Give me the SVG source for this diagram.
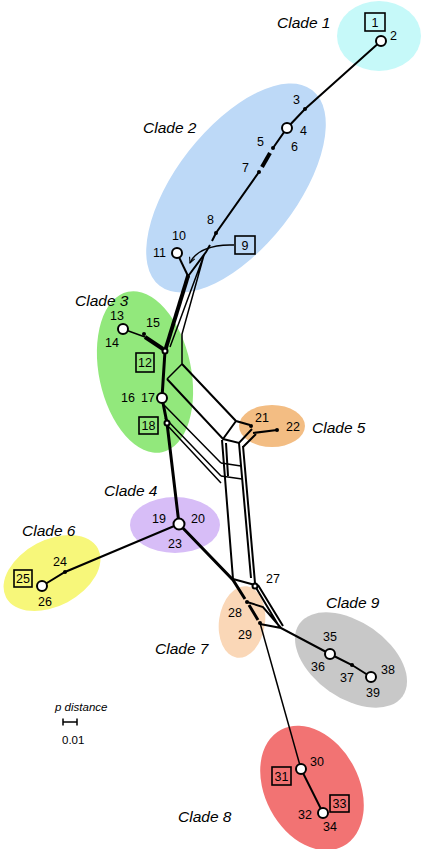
<svg xmlns="http://www.w3.org/2000/svg" width="422" height="849" viewBox="0 0 422 849">
<style>
.ln{stroke:#000;fill:none;stroke-width:2;stroke-linecap:butt;stroke-linejoin:miter}
.t{stroke-width:1.5}
.k{stroke-width:4}
.m{stroke-width:3}
.nd{fill:#fff;stroke:#000;stroke-width:2}
.dot{fill:#000}
.box{fill:none;stroke:#000;stroke-width:1.6}
text{font-family:"Liberation Sans",Arial,sans-serif;font-size:12.5px;fill:#000}
.cl{font-style:italic;font-size:15.5px}
</style>
<defs>
<marker id="ah" viewBox="0 0 10 10" refX="9" refY="5" markerWidth="7" markerHeight="7" orient="auto" markerUnits="userSpaceOnUse">
<path d="M1,1 L9,5 L1,9" fill="none" stroke="#000" stroke-width="1.5"/>
</marker>
</defs>
<rect width="422" height="849" fill="#fff"/>
<g id="clades">
<g id="clade1"><ellipse cx="379" cy="36" rx="42" ry="35" fill="#c6f9f9"/><text class="cl" x="277" y="28">Clade 1</text></g>
<g id="clade2"><ellipse transform="translate(236,188) rotate(-52)" rx="124" ry="60" fill="#bdd9f7"/><text class="cl" x="143" y="133">Clade 2</text></g>
<g id="clade3"><ellipse transform="translate(145,372) rotate(-12)" rx="46" ry="82" fill="#92e87c"/><text class="cl" x="75" y="306">Clade 3</text></g>
<g id="clade5"><ellipse cx="272" cy="426" rx="33" ry="21" fill="#f3bd83"/><text class="cl" x="312" y="433">Clade 5</text></g>
<g id="clade4"><ellipse cx="175" cy="525" rx="45" ry="28" fill="#d7bdf7"/><text class="cl" x="104" y="496">Clade 4</text></g>
<g id="clade6"><ellipse transform="translate(52,573) rotate(-28)" rx="52" ry="33" fill="#f7f77a"/><text class="cl" x="22" y="536">Clade 6</text></g>
<g id="clade7"><ellipse transform="translate(242,622) rotate(8)" rx="23" ry="36" fill="#fad7b7"/><text class="cl" x="155" y="654">Clade 7</text></g>
<g id="clade9"><ellipse transform="translate(351,660) rotate(35)" rx="63" ry="38" fill="#c8c8c8"/><text class="cl" x="326" y="608">Clade 9</text></g>
<g id="clade8"><ellipse transform="translate(312,788) rotate(-28)" rx="47" ry="66" fill="#f27373"/><text class="cl" x="178" y="822">Clade 8</text></g>
</g>
<g id="connectors">
<path class="ln" d="M381,41 L305,109 L287,128 L273,148"/>
<path class="ln k" d="M270,153 L262,167"/>
<path class="ln" d="M259,172 L216,233 L212,241"/>
<path class="ln" d="M210,245 L206,252 L189,275"/>
<path class="ln" d="M177,253 L188,276"/>
<path class="ln k" d="M188,276 L165,351"/>
<path class="ln t" d="M204,255 L170,347 M204,255 L182,334 L182,364 L167,379"/>
<path class="ln t" d="M123,329 L145,337"/>
<path class="ln k" d="M145,337 L163,349"/>
<path class="ln m" d="M165,351 L162,398 L167,423 L179,524"/>
<path class="ln" d="M182,364 L236,421 L250,425 M167,379 L223,439 L236,421"/>
<path class="ln t" d="M164,405 L221,463 M165,418 L221,476 M167,425 L221,483"/>
<path class="ln" d="M223,439 L239,443 L252,429 M243,447 L256,434 M253,433 L277,430"/>
<path class="ln" d="M222,440 L233,579 M226,443 L228,476"/>
<path class="ln t" d="M221,463 L241,466 M221,476 L242,479"/>
<path class="ln" d="M239,443 L251,578 M243,446 L255,583"/>
<path class="ln" d="M233,579 L255,585"/>
<path class="ln" d="M179,524 L65,572 L42,586"/>
<path class="ln m" d="M179,524 L233,580 L245,599 M249,605 L258,620"/>
<path class="ln" d="M247,602 L263,607 L281,628 M255,586 L280,628 M258,585 L283,626 M260,624 L281,628 L330,654 L352,665 L371,677"/>
<path class="ln t" d="M260,623 L301,769"/>
<path class="ln" d="M301,769 L323,813"/>
<path class="ln t" d="M234,245 C212,244 195,251 190,263" marker-end="url(#ah)"/>
</g>
<g id="n1"><rect class="box" x="365" y="13" width="20" height="18"/><text x="375" y="27" text-anchor="middle">1</text></g>
<g id="n2"><circle class="nd" cx="381" cy="41" r="5"/><text x="390" y="40">2</text></g>
<g id="n3"><circle class="dot" cx="305" cy="109" r="2"/><text x="293" y="104">3</text></g>
<g id="n4"><circle class="nd" cx="287" cy="128" r="5"/><text x="300" y="135">4</text></g>
<g id="n5"><circle class="dot" cx="273" cy="148" r="2"/><text x="257" y="146">5</text></g>
<g id="n6"><text x="291" y="151">6</text></g>
<g id="n7"><circle class="dot" cx="259" cy="172" r="2"/><text x="242" y="172">7</text></g>
<g id="n8"><circle class="dot" cx="216" cy="233" r="2"/><text x="207" y="224">8</text></g>
<g id="n9"><rect class="box" x="235" y="236" width="20" height="18"/><text x="245" y="250" text-anchor="middle">9</text></g>
<g id="n10"><text x="172" y="240">10</text></g>
<g id="n11"><circle class="nd" cx="177" cy="253" r="5"/><text x="153" y="257">11</text><circle class="dot" cx="188" cy="276" r="2"/></g>
<g id="n12"><rect class="box" x="136" y="353" width="18" height="19"/><text x="145" y="367" text-anchor="middle">12</text><circle class="nd" cx="165" cy="351" r="2.5" stroke-width="1.2"/></g>
<g id="n13"><circle class="nd" cx="123" cy="329" r="5"/><text x="110" y="320">13</text></g>
<g id="n14"><text x="105" y="347">14</text></g>
<g id="n15"><circle class="dot" cx="144" cy="334" r="2"/><text x="146" y="327">15</text></g>
<g id="n16"><text x="121" y="402">16</text></g>
<g id="n17"><circle class="nd" cx="162" cy="398" r="5"/><text x="141" y="402">17</text></g>
<g id="n18"><rect class="box" x="139" y="417" width="19" height="17"/><text x="148.5" y="430" text-anchor="middle">18</text><circle class="nd" cx="167" cy="423" r="2.5" stroke-width="1.2"/></g>
<g id="n19"><text x="152" y="523">19</text></g>
<g id="n20"><text x="191" y="523">20</text></g>
<g id="n21"><circle class="dot" cx="251" cy="426" r="2"/><text x="255" y="422">21</text></g>
<g id="n22"><circle class="dot" cx="277" cy="430" r="2"/><text x="286" y="431">22</text></g>
<g id="n23"><circle class="nd" cx="179" cy="524" r="5.5"/><text x="168" y="548">23</text></g>
<g id="n24"><circle class="dot" cx="65" cy="572" r="2"/><text x="53" y="566">24</text></g>
<g id="n25"><rect class="box" x="14" y="570" width="18" height="17"/><text x="23" y="583" text-anchor="middle">25</text></g>
<g id="n26"><circle class="nd" cx="42" cy="586" r="5"/><text x="38" y="606">26</text></g>
<g id="n27"><circle class="nd" cx="255" cy="586" r="2.5" stroke-width="1.2"/><text x="266" y="583">27</text></g>
<g id="n28"><circle class="dot" cx="247" cy="602" r="2"/><text x="228" y="617">28</text></g>
<g id="n29"><circle class="dot" cx="260" cy="623" r="2"/><text x="238" y="639">29</text></g>
<g id="n30"><circle class="nd" cx="301" cy="769" r="5"/><text x="310" y="766">30</text></g>
<g id="n31"><rect class="box" x="272" y="767" width="19" height="18"/><text x="281.5" y="781" text-anchor="middle">31</text></g>
<g id="n32"><text x="298" y="819">32</text></g>
<g id="n33"><rect class="box" x="330" y="795" width="19" height="17"/><text x="339.5" y="808" text-anchor="middle">33</text></g>
<g id="n34"><circle class="nd" cx="323" cy="813" r="5"/><text x="323" y="831">34</text></g>
<g id="n35"><circle class="nd" cx="330" cy="654" r="5"/><text x="323" y="641">35</text></g>
<g id="n36"><text x="311" y="671">36</text></g>
<g id="n37"><circle class="dot" cx="352" cy="665" r="2"/><text x="340" y="682">37</text></g>
<g id="n38"><circle class="nd" cx="371" cy="677" r="5"/><text x="381" y="674">38</text></g>
<g id="n39"><text x="366" y="697">39</text></g>
<g id="scale">
<text x="55" y="711" style="font-style:italic;font-size:11.5px">p distance</text>
<path class="ln t" d="M63,722 L77,722 M63,718.5 L63,725.5 M77,718.5 L77,725.5" stroke-width="1.2"/>
<text x="62" y="744" style="font-size:11.5px">0.01</text>
</g>
</svg>
